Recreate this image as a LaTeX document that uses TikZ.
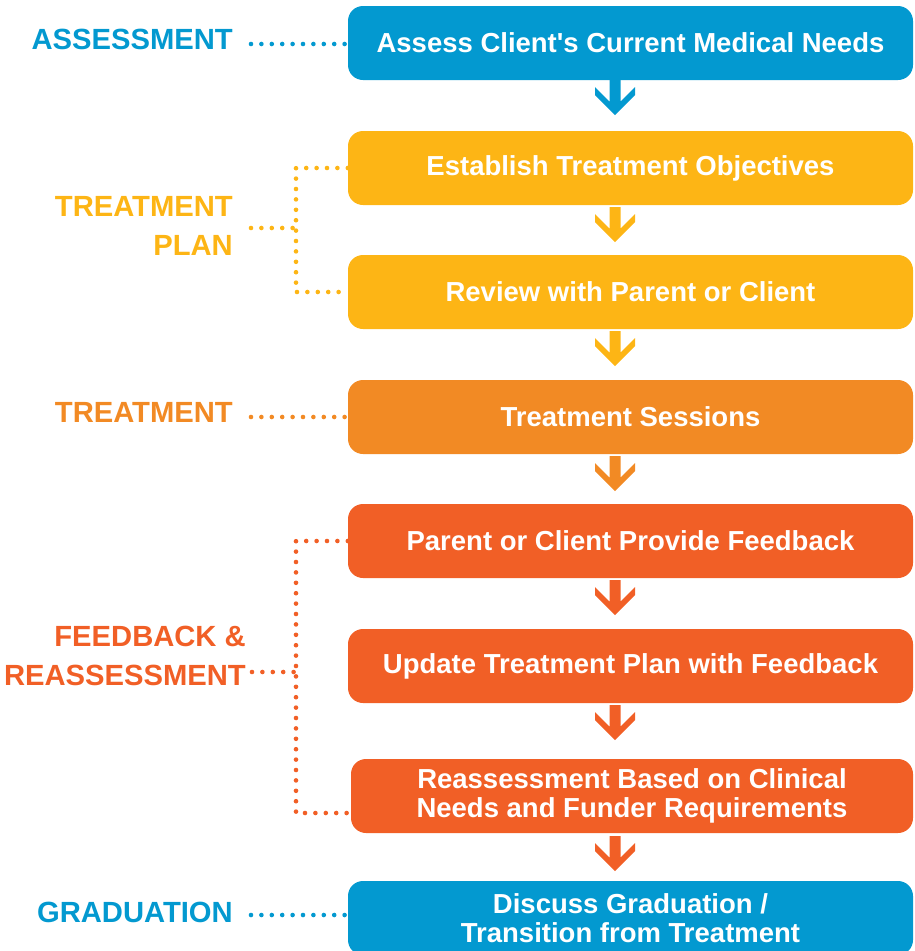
\documentclass[tikz,border=0pt]{standalone}
\usepackage{fontspec}
\setmainfont{Liberation Sans}
\usetikzlibrary{calc}
\definecolor{cblue}{HTML}{0399D0}
\definecolor{cyellow}{HTML}{FDB515}
\definecolor{corange}{HTML}{F28A24}
\definecolor{cred}{HTML}{F15F26}
\begin{document}
\begin{tikzpicture}[x=1pt,y=-1pt,
 box/.style={rounded corners=15pt, minimum width=565pt, inner sep=0pt, text=white,
   font=\bfseries\fontsize{27.5}{29}\selectfont, align=center},
 lab/.style={font=\bfseries\fontsize{29.2}{38.5}\selectfont, inner sep=0pt, align=right},
 dots/.style={line width=4.6pt, line cap=round, dash pattern=on 0pt off 10.4pt},
 darr/.pic={\fill (-5.5,0) -- (5.5,0) -- (5.5,21.5) -- (20,7) -- (20,15) -- (0,35)
   -- (-20,15) -- (-20,7) -- (-5.5,21.5) -- cycle;}]
\clip (0,0) rectangle (914,951);
\coordinate (ax) at (615,0);
% labels
\node[lab, text=cblue, anchor=base east] (l1) at (233,49) {ASSESSMENT};
\node[lab, text=cyellow, anchor=east] (l2) at (233,226) {TREATMENT\\PLAN};
\node[lab, text=corange, anchor=base east] (l3) at (233,422) {TREATMENT};
\node[lab, text=cred, anchor=east] (l4) at (246,656) {FEEDBACK \&\\REASSESSMENT};
\node[lab, text=cblue, anchor=base east] (l5) at (233,922) {GRADUATION};
% box centres
\path (630.5,43) coordinate (c1) (630.5,168) coordinate (c2) (630.5,292) coordinate (c3)
      (630.5,417) coordinate (c4) (630.5,541) coordinate (c5) (630.5,666) coordinate (c6)
      (632,796) coordinate (c7) (630.5,918) coordinate (c8);
% dotted connector points
\coordinate (d1) at (251,44);
\coordinate (d2) at (251,228);
\coordinate (j2) at (296,228);
\coordinate (d3) at (251,417);
\coordinate (d4) at (252,672);
\coordinate (j4) at (296,672);
\coordinate (f7) at (296,813);
\coordinate (d5) at (251,915);
\node[box, fill=cblue, minimum height=74pt] (b1) at (c1) {Assess Client\textquotesingle s Current Medical Needs};
\node[box, fill=cyellow, minimum height=74pt] (b2) at (c2) {Establish Treatment Objectives};
\node[box, fill=cyellow, minimum height=74pt] (b3) at (c3) {Review with Parent or Client};
\node[box, fill=corange, minimum height=74pt] (b4) at (c4) {Treatment Sessions};
\node[box, fill=cred, minimum height=74pt] (b5) at (c5) {Parent or Client Provide Feedback};
\node[box, fill=cred, minimum height=74pt] (b6) at (c6) {Update Treatment Plan with Feedback};
\node[box, fill=cred, minimum height=74pt, minimum width=562pt] (b7) at (c7) {Reassessment Based on Clinical\\Needs and Funder Requirements};
\node[box, fill=cblue, minimum height=74pt] (b8) at (c8) {Discuss Graduation /\\Transition from Treatment};
\draw[dots, cblue] (d1) -- (d1 -| b1.west);
\draw[dots, cyellow] (d2) -- (j2);
\draw[dots, cyellow] (b2.west) -| (j2) |- (b3.west);
\draw[dots, corange] (d3) -- (d3 -| b4.west);
\draw[dots, cred] (d4) -- (j4);
\draw[dots, cred] (b5.west) -| (f7) -- (f7 -| b7.west);
\draw[dots, cblue] (d5) -- (d5 -| b8.west);
% arrows
\pic[fill=cblue] at ($(b1.south -| ax)+(0,0)$) {darr};
\pic[fill=cyellow] at ($(b2.south -| ax)+(0,2)$) {darr};
\pic[fill=cyellow] at ($(b3.south -| ax)+(0,2)$) {darr};
\pic[fill=corange] at ($(b4.south -| ax)+(0,2)$) {darr};
\pic[fill=cred] at ($(b5.south -| ax)+(0,2)$) {darr};
\pic[fill=cred] at ($(b6.south -| ax)+(0,2)$) {darr};
\pic[fill=cred] at ($(b7.south -| ax)+(0,3)$) {darr};
\end{tikzpicture}
\end{document}
